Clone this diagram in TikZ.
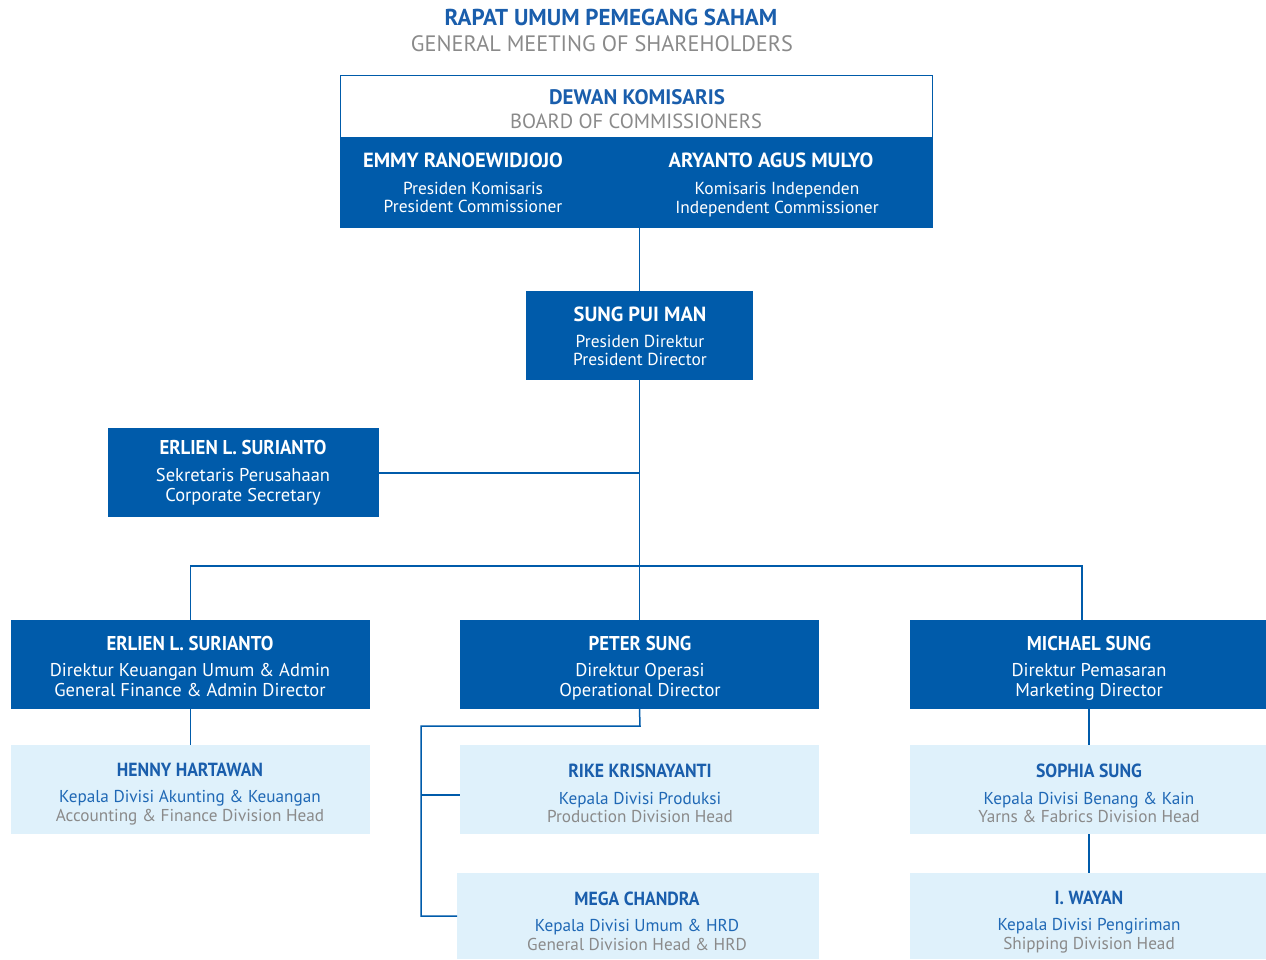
\documentclass[tikz,border=0pt]{standalone}
\usepackage{fontspec}
\setmainfont{PT Sans}
\newfontfamily\nameA{PT Sans Bold}
\newfontfamily\nameB[FakeStretch=0.94]{PT Sans Bold}
\newfontfamily\nameC[FakeStretch=0.93]{PT Sans Bold}
\definecolor{dblue}{HTML}{005BAA}
\definecolor{lblue}{HTML}{DFF1FB}
\definecolor{tblue}{HTML}{1A5EAC}
\definecolor{kblue}{HTML}{1F68B5}
\definecolor{tgrey}{HTML}{8A8A8A}
\tikzset{
  x=1pt,y=-1pt,
  darkbox/.style={fill=dblue,draw=none,inner sep=0,outer sep=0},
  lightbox/.style={fill=lblue,draw=none,inner sep=0,outer sep=0},
  txt/.style={inner sep=0,outer sep=0,text depth=0pt},
  title/.style={txt,text=tblue,font=\fontsize{23}{24}\nameA,text height=16pt},
  subtitle/.style={txt,text=tgrey,font=\fontsize{22.3}{24}\selectfont,text height=15.6pt},
  headname/.style={txt,text=tblue,font=\fontsize{21}{22}\nameA,text height=14.7pt},
  headsub/.style={txt,text=tgrey,font=\fontsize{20.5}{22}\selectfont,text height=14.3pt},
  topname/.style={txt,text=white,font=\fontsize{20.5}{22}\nameA,text height=14.3pt},
  toprole/.style={txt,text=white,font=\fontsize{17.4}{18}\selectfont,text height=12.2pt},
  dirname/.style={txt,text=white,font=\fontsize{20}{22}\nameB,text height=14pt},
  dirrole/.style={txt,text=white,font=\fontsize{18.5}{20}\selectfont,text height=13pt},
  divname/.style={txt,text=tblue,font=\fontsize{19}{20}\nameC,text height=13.3pt},
  divrole/.style={txt,text=kblue,font=\fontsize{17.2}{18}\selectfont,text height=12pt},
  divrole2/.style={txt,text=tgrey,font=\fontsize{17.2}{18}\selectfont,text height=12pt},
  conn/.style={draw=dblue,line width=1.5pt},
}
\begin{document}
\begin{tikzpicture}
\useasboundingbox (0,0) rectangle (1266,959);
% titles
\node[title] (t1) at (611,17) {RAPAT UMUM PEMEGANG SAHAM};
\node[subtitle] (t2) at (602,44) {GENERAL MEETING OF SHAREHOLDERS};
% board
\path[fill=dblue] (340,138) rectangle (933,228);
\node[draw=dblue,line width=1.5pt,fill=white,minimum width=592,minimum height=62,inner sep=0] (bw) at (636.5,106.5) {};
\node[darkbox,minimum width=593,minimum height=90] (board) at (636.5,183) {};
\node[headname] (bd1) at (637,97) {DEWAN KOMISARIS};
\node[headsub] (bd2) at (636,121) {BOARD OF COMMISSIONERS};
\node[topname] (em) at (463,160) {EMMY RANOEWIDJOJO};
\node[toprole] (em1) at (473,188) {Presiden Komisaris};
\node[toprole] (em2) at (473,206) {President Commissioner};
\node[topname] (ar) at (771,160) {ARYANTO AGUS MULYO};
\node[toprole] (ar1) at (777,188) {Komisaris Independen};
\node[toprole] (ar2) at (777,207) {Independent Commissioner};
% president director
\node[darkbox,minimum width=227,minimum height=89] (pd) at (639.5,335.5) {};
\node[topname] (pdn) at (640,314) {SUNG PUI MAN};
\node[toprole] (pd1) at (640,341) {Presiden Direktur};
\node[toprole] (pd2) at (640,359) {President Director};
% corporate secretary
\node[darkbox,minimum width=271,minimum height=89] (cs) at (243.5,472.5) {};
\node[dirname] (csn) at (243,447) {ERLIEN L. SURIANTO};
\node[dirrole] (cs1) at (243,475) {Sekretaris Perusahaan};
\node[dirrole] (cs2) at (243,495) {Corporate Secretary};
% directors
\node[darkbox,minimum width=359,minimum height=89] (d1) at (190.5,664.5) {};
\node[dirname] (d1n) at (190,643) {ERLIEN L. SURIANTO};
\node[dirrole] (d11) at (190,670) {Direktur Keuangan Umum \& Admin};
\node[dirrole] (d12) at (190,690) {General Finance \& Admin Director};
\node[darkbox,minimum width=359,minimum height=89] (d2) at (639.5,664.5) {};
\node[dirname] (d2n) at (640,643) {PETER SUNG};
\node[dirrole] (d21) at (640,670) {Direktur Operasi};
\node[dirrole] (d22) at (640,690) {Operational Director};
\node[darkbox,minimum width=356,minimum height=89] (d3) at (1088,664.5) {};
\node[dirname] (d3n) at (1089,643) {MICHAEL SUNG};
\node[dirrole] (d31) at (1089,670) {Direktur Pemasaran};
\node[dirrole] (d32) at (1089,690) {Marketing Director};
% division heads
\node[lightbox,minimum width=359,minimum height=89] (h1) at (190.5,789.5) {};
\node[divname] (h1n) at (190,770) {HENNY HARTAWAN};
\node[divrole] (h11) at (190,796) {Kepala Divisi Akunting \& Keuangan};
\node[divrole2] (h12) at (190,815) {Accounting \& Finance Division Head};
\node[lightbox,minimum width=359,minimum height=89] (h2) at (639.5,789.5) {};
\node[divname] (h2n) at (640,771) {RIKE KRISNAYANTI};
\node[divrole] (h21) at (640,798) {Kepala Divisi Produksi};
\node[divrole2] (h22) at (640,816) {Production Division Head};
\node[lightbox,minimum width=362,minimum height=86] (h3) at (638,916) {};
\node[divname] (h3n) at (637,899) {MEGA CHANDRA};
\node[divrole] (h31) at (637,925) {Kepala Divisi Umum \& HRD};
\node[divrole2] (h32) at (637,944) {General Division Head \& HRD};
\node[lightbox,minimum width=356,minimum height=89] (h4) at (1088,789.5) {};
\node[divname] (h4n) at (1089,771) {SOPHIA SUNG};
\node[divrole] (h41) at (1089,798) {Kepala Divisi Benang \& Kain};
\node[divrole2] (h42) at (1089,816) {Yarns \& Fabrics Division Head};
\node[lightbox,minimum width=356,minimum height=86] (h5) at (1088,916) {};
\node[divname] (h5n) at (1089,898) {I. WAYAN};
\node[divrole] (h51) at (1089,924) {Kepala Divisi Pengiriman};
\node[divrole2] (h52) at (1089,943) {Shipping Division Head};
% connectors
\coordinate (jbar) at (640,566);
\coordinate (jright) at (1082,566);
\coordinate (jcs) at (640,473);
\coordinate (jmid) at (640,726);
\coordinate (jleft) at (421,726);
\coordinate (jrike) at (421,795);
\draw[conn] (board.south -| pd.north) -- (pd.north);
\draw[conn] (pd.south) -- (d2.north);
\draw[conn] (cs.east |- jcs) -- (jcs);
\draw[conn] (d1.north) -- (d1.north |- jbar) -- (jright) -- (jright |- d3.north);
\draw[conn] (d1.south) -- (h1.north);
\draw[conn] (d2.south) -- (jmid) -- (jleft) -- (jleft |- h3.west) -- (h3.west);
\draw[conn] (jrike) -- (jrike -| h2.west);
\draw[conn] (d3.south -| 1089,0) -- (h4.north -| 1089,0);
\draw[conn] (h4.south -| 1089,0) -- (h5.north -| 1089,0);
\end{tikzpicture}
\end{document}
